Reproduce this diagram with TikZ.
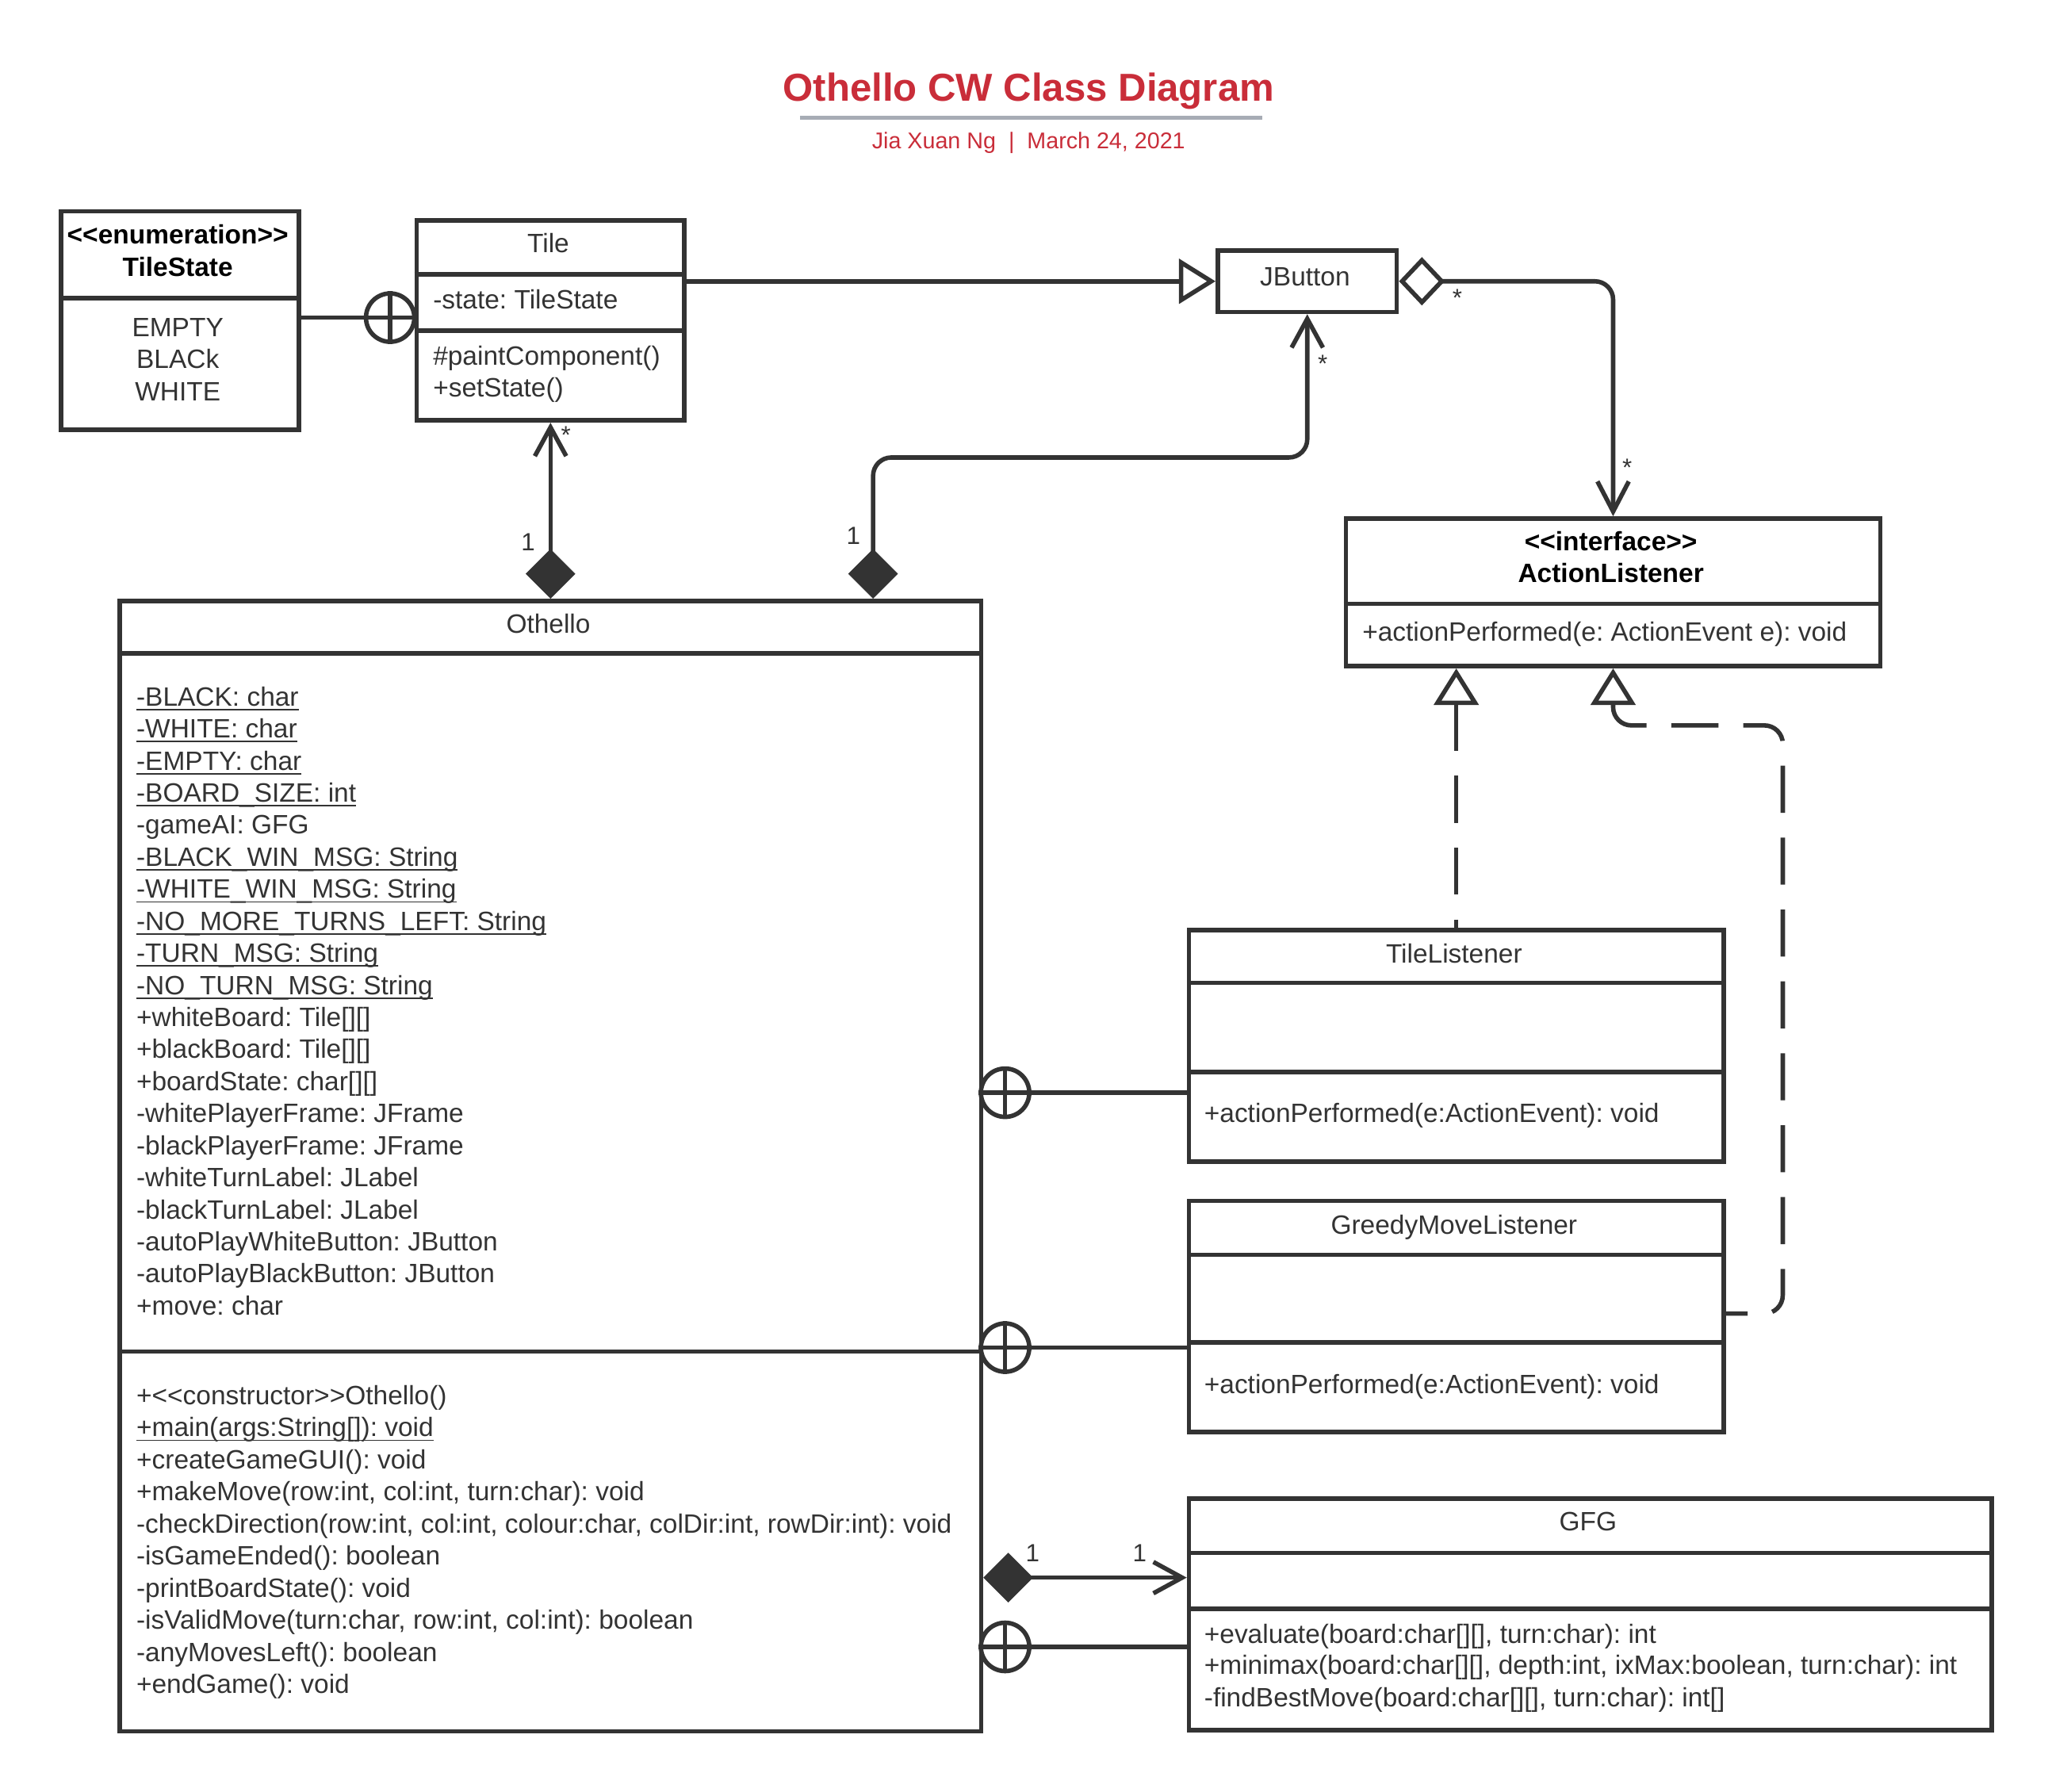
\documentclass[tikz,border=0pt]{standalone}
\usepackage{fontspec}
\setmainfont{Liberation Sans}
\usetikzlibrary{arrows.meta}
\frenchspacing
\definecolor{lc}{HTML}{333333}
\definecolor{tred}{HTML}{C92D39}
\definecolor{tgray}{HTML}{A7ACB5}
\newcommand\ulx[1]{\setbox0\hbox{#1}\rlap{\rule[-1.7pt]{\wd0}{0.55pt}}\box0}
\newcommand\ltlt{<\kern0pt<}
\newcommand\gtgt{>\kern0pt>}
\newcommand\umlbox[5]{\node[box, anchor=north west, minimum width={(#4-#2)*0.5pt}, minimum height={(#5-#3)*0.5pt}] (#1) at (#2,#3) {};}
\newcommand\umldiv[2]{\draw[div] (#1.west |- 0,#2) -- (#1.east |- 0,#2);}
\begin{document}
\begin{tikzpicture}[x=0.5pt,y=-0.5pt,
  box/.style={draw=lc, line width=1.7pt, inner sep=0pt},
  div/.style={draw=lc, line width=1.7pt},
  txt/.style={font=\fontsize{10.15}{12}\selectfont\frenchspacing, text=lc, inner sep=0pt, anchor=base west},
  ctxt/.style={txt, anchor=base},
  btxt/.style={ctxt, font=\fontsize{10.15}{12}\selectfont\bfseries, text=black},
  conn/.style={draw=lc, line width=1.7pt, rounded corners=7pt},
  dconn/.style={conn, dash pattern=on 18pt off 9.5pt},
  nestc/.style={circle, draw=lc, line width=1.7pt, minimum size=18.5pt, inner sep=0pt, fill=white},
  mult/.style={font=\fontsize{9.5}{11}\selectfont, text=lc, inner sep=0pt},
  gen/.style={-{Triangle[open,length=14pt,width=17pt]}},
  genrev/.style={{Triangle[open,length=14pt,width=17pt]}-},
  comp/.style={{Diamond[length=19pt,width=19pt]}-{Straight Barb[length=11pt,width=12pt]}},
]
\useasboundingbox (0,0) rectangle (1570,1370.5);

% title
\node[font=\fontsize{14.9}{18}\selectfont\bfseries, text=tred, inner sep=0pt, anchor=base] (title) at (787,77.5) {Othello CW Class Diagram};
\draw[tgray, line width=1.5pt] (612,90) coordinate (ul1) -- (966,90) coordinate (ul2);
\node[font=\fontsize{8.7}{10}\selectfont, text=tred, inner sep=0pt, anchor=base] (subtitle) at (787,113.5) {Jia Xuan Ng\ \ |\ \ March 24, 2021};

% TileState
\umlbox{tilestate}{45}{160}{227}{327}
\umldiv{tilestate}{228}
\node[btxt] (ts1) at (136,186.5) {\ltlt enumeration\gtgt};
\node[btxt] (ts2) at (136,211.5) {TileState};
\node[ctxt] (ts3) at (136,257.5) {EMPTY};
\node[ctxt] (ts4) at (136,281.5) {BLACk};
\node[ctxt] (ts5) at (136,306.5) {WHITE};

% Tile
\umlbox{tile}{317}{167}{522}{320}
\umldiv{tile}{210}
\umldiv{tile}{253}
\node[ctxt] (t1) at (419.5,193.5) {Tile};
\node[txt] (t2) at (331,236.5) {-state: TileState};
\node[txt] (t3) at (331,279.5) {\#paintComponent()};
\node[txt] (t4) at (331,303.5) {+setState()};

% JButton
\umlbox{jbutton}{930}{190}{1067}{237}
\node[ctxt] (jb1) at (998.5,218.5) {JButton};

% ActionListener
\umlbox{actl}{1028}{395}{1437}{508}
\umldiv{actl}{462}
\node[btxt] (al1) at (1232.5,421.5) {\ltlt interface\gtgt};
\node[btxt] (al2) at (1232.5,445.5) {ActionListener};
\node[txt] (al3) at (1042,490.5) {+actionPerformed(e: ActionEvent e): void};

% Othello
\umlbox{othello}{90}{458}{749}{1323}
\umldiv{othello}{500}
\umldiv{othello}{1034}
\node[ctxt] (o0) at (419.5,484.5) {Othello};
\foreach \t [count=\i from 0] in {
  {\ulx{-BLACK: char}},
  {\ulx{-WHITE: char}},
  {\ulx{-EMPTY: char}},
  {\ulx{-BOARD\_SIZE: int}},
  {-gameAI: GFG},
  {\ulx{-BLACK\_WIN\_MSG: String}},
  {\ulx{-WHITE\_WIN\_MSG: String}},
  {\ulx{-NO\_MORE\_TURNS\_LEFT: String}},
  {\ulx{-TURN\_MSG: String}},
  {\ulx{-NO\_TURN\_MSG: String}},
  {+whiteBoard: Tile[][]},
  {+blackBoard: Tile[][]},
  {+boardState: char[][]},
  {-whitePlayerFrame: JFrame},
  {-blackPlayerFrame: JFrame},
  {-whiteTurnLabel: JLabel},
  {-blackTurnLabel: JLabel},
  {-autoPlayWhiteButton: JButton},
  {-autoPlayBlackButton: JButton},
  {+move: char}}
  \node[txt, name=oa\i] at (104,540+24.53*\i) {\t};
\foreach \t [count=\i from 0] in {
  {+\ltlt constructor\gtgt Othello()},
  {\ulx{+main(args:String[]): void}},
  {+createGameGUI(): void},
  {+makeMove(row:int, col:int, turn:char): void},
  {-checkDirection(row:int, col:int, colour:char, colDir:int, rowDir:int): void},
  {-isGameEnded(): boolean},
  {-printBoardState(): void},
  {-isValidMove(turn:char, row:int, col:int): boolean},
  {-anyMovesLeft(): boolean},
  {+endGame(): void}}
  \node[txt, name=om\i] at (104,1074.5+24.56*\i) {\t};

% TileListener
\umlbox{tilel}{908}{710}{1317}{887}
\umldiv{tilel}{752}
\umldiv{tilel}{820}
\node[ctxt] (tl1) at (1112.5,737) {TileListener};
\node[txt] (tl2) at (921,859) {+actionPerformed(e:ActionEvent): void};

% GreedyMoveListener
\umlbox{greedy}{908}{917}{1317}{1094}
\umldiv{greedy}{960}
\umldiv{greedy}{1027}
\node[ctxt] (gl1) at (1112.5,944) {GreedyMoveListener};
\node[txt] (gl2) at (921,1066) {+actionPerformed(e:ActionEvent): void};

% GFG
\umlbox{gfg}{908}{1145}{1522}{1322}
\umldiv{gfg}{1188}
\umldiv{gfg}{1231}
\node[ctxt] (g1) at (1215,1171) {GFG};
\node[txt] (g2) at (921,1257) {+evaluate(board:char[][], turn:char): int};
\node[txt] (g3) at (921,1281) {+minimax(board:char[][], depth:int, ixMax:boolean, turn:char): int};
\node[txt] (g4) at (921,1306) {-findBestMove(board:char[][], turn:char): int[]};

% ---------- connectors ----------
% TileState nested in Tile
\node[nestc] (n1) at (298.5,243) {};
\draw[div] (n1.north) -- (n1.south) (n1.west) -- (n1.east);
\draw[div] (tilestate.east |- n1) -- (n1.west);

% Tile generalizes JButton
\draw[conn, gen] (tile.east |- jbutton.west) -- (jbutton.west);

% JButton aggregation to ActionListener
\draw[conn, {Diamond[open,length=17.5pt,width=18.5pt]}-{Straight Barb[length=11.5pt,width=12pt]}] (jbutton.east) -| (actl.north);
\node[mult] (m1) at (1115,228) {*};
\node[mult] (m2) at (1245,358) {*};

% Othello composition Tile
\draw[conn, comp] (othello.north) -- (tile.south);
\node[mult] (m3) at (404,415) {1};
\node[mult] (m4) at (433,333) {*};

% Othello composition JButton
\coordinate (oj) at (668,458);
\draw[conn, comp] (oj) -- (oj |- 0,350) -- (jbutton.south |- 0,350) -- (jbutton.south);
\node[mult] (m5) at (653,410) {1};
\node[mult] (m6) at (1012,278) {*};

% TileListener realizes ActionListener
\draw[dconn, genrev] (actl.south -| tilel.north) -- (tilel.north);

% GreedyMoveListener realizes ActionListener
\draw[dconn, genrev] (actl.south) -- (actl.south |- 0,555) -- (1364,555) -- (1364,1005) -- (greedy.east |- 0,1005);

% nested listeners & GFG in Othello
\node[nestc] (n2) at (769,836) {};
\draw[div] (n2.north) -- (n2.south) (n2.west) -- (n2.east);
\draw[div] (n2.east) -- (tilel.west |- n2);
\node[nestc] (n3) at (769,1031) {};
\draw[div] (n3.north) -- (n3.south) (n3.west) -- (n3.east);
\draw[div] (n3.east) -- (greedy.west |- n3);
\node[nestc] (n4) at (769,1260) {};
\draw[div] (n4.north) -- (n4.south) (n4.west) -- (n4.east);
\draw[div] (n4.east) -- (gfg.west |- n4);

% Othello composition GFG
\draw[conn, comp] (othello.east |- 0,1207) -- (gfg.west |- 0,1207);
\node[mult] (m7) at (790,1188) {1};
\node[mult] (m8) at (872,1188) {1};
\end{tikzpicture}
\end{document}
